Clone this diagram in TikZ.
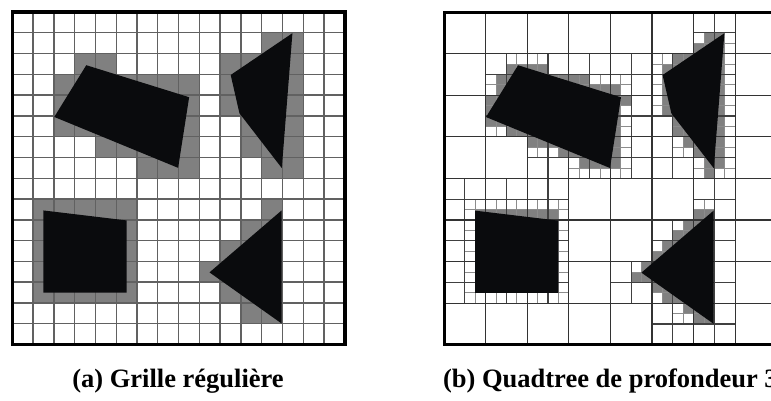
\documentclass[tikz,border=0pt]{standalone}
\usepackage{fontspec}
\setmainfont{Liberation Serif}[BoldFont={Liberation Serif Bold}]
\newfontfamily\capfont{Liberation Serif}[BoldFont={Liberation Serif Bold}]
\definecolor{cellgray}{HTML}{808080}
\definecolor{shapeblack}{HTML}{0A0B0D}
\tikzset{
  gridline/.style={draw=black!62, line width=1.4pt},
  qtmain/.style={draw=black!80, line width=1.2pt},
  qtmid/.style={draw=black!75, line width=1.1pt},
  qtfine/.style={draw=black!45, line width=0.9pt},
  graycell/.style={fill=cellgray},
  blackshape/.style={fill=shapeblack},
  frameleft/.style={draw=black, line width=3.5pt},
  frameright/.style={draw=black, line width=3pt},
  captiontext/.style={font=\capfont\fontsize{26.5}{30}\selectfont\bfseries, anchor=base, inner sep=0pt}
}
\newcommand\rsFillGray[4]{\fill[graycell] (#1,#2) rectangle (#3,#4);}
\newcommand\rsBoxA[4]{\draw[qtmain] (#1,#2) rectangle (#3,#4);}
\newcommand\rsBoxB[4]{\draw[qtmid] (#1,#2) rectangle (#3,#4);}
\newcommand\rsBoxC[4]{\draw[qtfine] (#1,#2) rectangle (#3,#4);}
\newcommand\rsShapes{%
  \fill[blackshape] (3.56,2.56) -- (8.51,4.10) -- (7.98,7.50) -- (2.02,5.05) -- cycle;
  \fill[blackshape] (13.48,1.02) -- (12.97,7.51) -- (10.93,4.87) -- (10.51,3.03) -- cycle;
  \fill[blackshape] (1.5,9.55) -- (5.5,10.03) -- (5.5,13.5) -- (1.5,13.5) -- cycle;
  \fill[blackshape] (12.96,9.55) -- (12.96,14.99) -- (9.49,12.53) -- cycle;
}

\ExplSyntaxOn
\bool_new:N \l__rs_disj_bool
\bool_new:N \l__rs_inside_bool
\bool_new:N \l__rs_mixed_bool
\bool_new:N \l__rs_hit_bool
\int_new:N \l__rs_cnt_int
\fp_new:N \l__rs_c_fp
\fp_new:N \l__rs_xa_fp
\fp_new:N \l__rs_ya_fp
\fp_new:N \l__rs_xb_fp
\fp_new:N \l__rs_yb_fp
\tl_new:N \g__rs_leftfill_tl
\tl_new:N \g__rs_rightfill_tl
\tl_new:N \g__rs_linesA_tl
\tl_new:N \g__rs_linesB_tl
\tl_new:N \g__rs_linesC_tl

\cs_new_protected:Npn \__rs_corner:nnnnNN #1#2#3#4#5#6
  {
    \fp_set:Nn \l__rs_c_fp { ((#3)-(#1))*(#6-(#2)) - ((#4)-(#2))*(#5-(#1)) }
    \fp_compare:nNnT \l__rs_c_fp < { 0.001 } { \int_incr:N \l__rs_cnt_int }
    \fp_compare:nNnT \l__rs_c_fp < { -0.001 } { \bool_set_false:N \l__rs_inside_bool }
  }
\cs_new_protected:Npn \__rs_edge:nnnn #1#2#3#4
  {
    \int_zero:N \l__rs_cnt_int
    \__rs_corner:nnnnNN {#1}{#2}{#3}{#4} \l__rs_xa_fp \l__rs_ya_fp
    \__rs_corner:nnnnNN {#1}{#2}{#3}{#4} \l__rs_xb_fp \l__rs_ya_fp
    \__rs_corner:nnnnNN {#1}{#2}{#3}{#4} \l__rs_xa_fp \l__rs_yb_fp
    \__rs_corner:nnnnNN {#1}{#2}{#3}{#4} \l__rs_xb_fp \l__rs_yb_fp
    \int_compare:nNnT \l__rs_cnt_int = 4 { \bool_set_true:N \l__rs_disj_bool }
  }
\cs_new_protected:Npn \__rs_poly:nnnnn #1#2#3#4#5
  {
    \bool_lazy_any:nTF
      {
        { \fp_compare_p:nNn \l__rs_xb_fp < { #1 + 0.001 } }
        { \fp_compare_p:nNn \l__rs_xa_fp > { #3 - 0.001 } }
        { \fp_compare_p:nNn \l__rs_yb_fp < { #2 + 0.001 } }
        { \fp_compare_p:nNn \l__rs_ya_fp > { #4 - 0.001 } }
      }
      { }
      {
        \bool_set_false:N \l__rs_disj_bool
        \bool_set_true:N \l__rs_inside_bool
        #5
        \bool_if:NF \l__rs_disj_bool
          {
            \bool_set_true:N \l__rs_hit_bool
            \bool_if:NF \l__rs_inside_bool { \bool_set_true:N \l__rs_mixed_bool }
          }
      }
  }
\cs_new_protected:Npn \rs_test:nnnn #1#2#3#4
  {
    \fp_set:Nn \l__rs_xa_fp {#1}
    \fp_set:Nn \l__rs_ya_fp {#2}
    \fp_set:Nn \l__rs_xb_fp {#3}
    \fp_set:Nn \l__rs_yb_fp {#4}
    \bool_set_false:N \l__rs_mixed_bool
    \bool_set_false:N \l__rs_hit_bool
    \__rs_poly:nnnnn {2.02}{2.56}{8.51}{7.50}
      {
        \__rs_edge:nnnn {3.56}{2.56}{8.51}{4.10}
        \__rs_edge:nnnn {8.51}{4.10}{7.98}{7.50}
        \__rs_edge:nnnn {7.98}{7.50}{2.02}{5.05}
        \__rs_edge:nnnn {2.02}{5.05}{3.56}{2.56}
      }
    \__rs_poly:nnnnn {10.51}{1.02}{13.48}{7.51}
      {
        \__rs_edge:nnnn {13.48}{1.02}{12.97}{7.51}
        \__rs_edge:nnnn {12.97}{7.51}{10.93}{4.87}
        \__rs_edge:nnnn {10.93}{4.87}{10.51}{3.03}
        \__rs_edge:nnnn {10.51}{3.03}{13.48}{1.02}
      }
    \__rs_poly:nnnnn {1.5}{9.55}{5.5}{13.5}
      {
        \__rs_edge:nnnn {1.5}{9.55}{5.5}{10.03}
        \__rs_edge:nnnn {5.5}{10.03}{5.5}{13.5}
        \__rs_edge:nnnn {5.5}{13.5}{1.5}{13.5}
        \__rs_edge:nnnn {1.5}{13.5}{1.5}{9.55}
      }
    \__rs_poly:nnnnn {9.49}{9.55}{12.96}{14.99}
      {
        \__rs_edge:nnnn {12.96}{9.55}{12.96}{14.99}
        \__rs_edge:nnnn {12.96}{14.99}{9.49}{12.53}
        \__rs_edge:nnnn {9.49}{12.53}{12.96}{9.55}
      }
  }
\cs_new_protected:Npn \rs_qt_node:nnn #1#2#3
  {
    \rs_test:nnnn {#1}{#2}{#1+#3}{#2+#3}
    \fp_compare:nNnTF {#3} > {1.5}
      {
        \tl_gput_right:Nx \g__rs_linesA_tl
          { \exp_not:N \rsBoxA {#1}{#2}{\fp_eval:n{#1+#3}}{\fp_eval:n{#2+#3}} }
      }
      {
        \fp_compare:nNnTF {#3} > {0.75}
          {
            \tl_gput_right:Nx \g__rs_linesB_tl
              { \exp_not:N \rsBoxB {#1}{#2}{\fp_eval:n{#1+#3}}{\fp_eval:n{#2+#3}} }
          }
          {
            \tl_gput_right:Nx \g__rs_linesC_tl
              { \exp_not:N \rsBoxC {#1}{#2}{\fp_eval:n{#1+#3}}{\fp_eval:n{#2+#3}} }
          }
      }
    \fp_compare:nNnTF {#3} > {0.75}
      {
        \bool_if:NT \l__rs_mixed_bool
          {
            \rs_qt_node:xxx {#1} {#2} {\fp_eval:n{#3/2}}
            \rs_qt_node:xxx {\fp_eval:n{#1+#3/2}} {#2} {\fp_eval:n{#3/2}}
            \rs_qt_node:xxx {#1} {\fp_eval:n{#2+#3/2}} {\fp_eval:n{#3/2}}
            \rs_qt_node:xxx {\fp_eval:n{#1+#3/2}} {\fp_eval:n{#2+#3/2}} {\fp_eval:n{#3/2}}
          }
      }
      {
        \bool_if:NT \l__rs_mixed_bool
          {
            \tl_gput_right:Nx \g__rs_rightfill_tl
              { \exp_not:N \rsFillGray {#1}{#2}{\fp_eval:n{#1+#3}}{\fp_eval:n{#2+#3}} }
          }
      }
  }
\cs_generate_variant:Nn \rs_qt_node:nnn { xxx }

\int_step_inline:nnn {0}{15}
  {
    \int_step_inline:nnn {0}{15}
      {
        \rs_test:nnnn {#1}{##1}{#1+1}{##1+1}
        \bool_if:NT \l__rs_hit_bool
          {
            \tl_gput_right:Nx \g__rs_leftfill_tl
              { \exp_not:N \rsFillGray {#1}{##1}{\int_eval:n{#1+1}}{\int_eval:n{##1+1}} }
          }
      }
  }
\int_step_inline:nnn {0}{7}
  {
    \int_step_inline:nnn {0}{7}
      { \rs_qt_node:xxx {\int_eval:n{2*#1}} {\int_eval:n{2*##1}} {2} }
  }
\cs_new_protected:Npn \rsLeftFills { \tl_use:N \g__rs_leftfill_tl }
\cs_new_protected:Npn \rsRightFills { \tl_use:N \g__rs_rightfill_tl }
\cs_new_protected:Npn \rsRightLines
  {
    \tl_use:N \g__rs_linesC_tl
    \tl_use:N \g__rs_linesB_tl
    \tl_use:N \g__rs_linesA_tl
  }
\ExplSyntaxOff

\begin{document}
\begin{tikzpicture}[x=1pt,y=-1pt]
\fill[white] (0,0) rectangle (771,400);
\useasboundingbox (0,0) rectangle (771,400);
\clip (0,0) rectangle (771,400);
% (a) regular grid
\begin{scope}[shift={(12.3,12)}, x=20.78pt, y=-20.78pt]
  \rsLeftFills
  \foreach \k in {1,...,15} {
    \draw[gridline] (\k,0) -- (\k,16);
    \draw[gridline] (0,\k) -- (16,\k);
  }
  \rsShapes
  \draw[frameleft] (0,0) rectangle (16,16);
\end{scope}
% (b) quadtree
\begin{scope}[shift={(444,12)}, x=20.8pt, y=-20.8pt]
  \rsRightFills
  \rsRightLines
  \rsShapes
  \draw[frameright] (0,0) rectangle (16,16);
\end{scope}
\node[captiontext] (capA) at (178,387) {(a) Grille régulière};
\node[captiontext] (capB) at (610.4,387) {(b) Quadtree de profondeur 3};
\end{tikzpicture}
\end{document}
